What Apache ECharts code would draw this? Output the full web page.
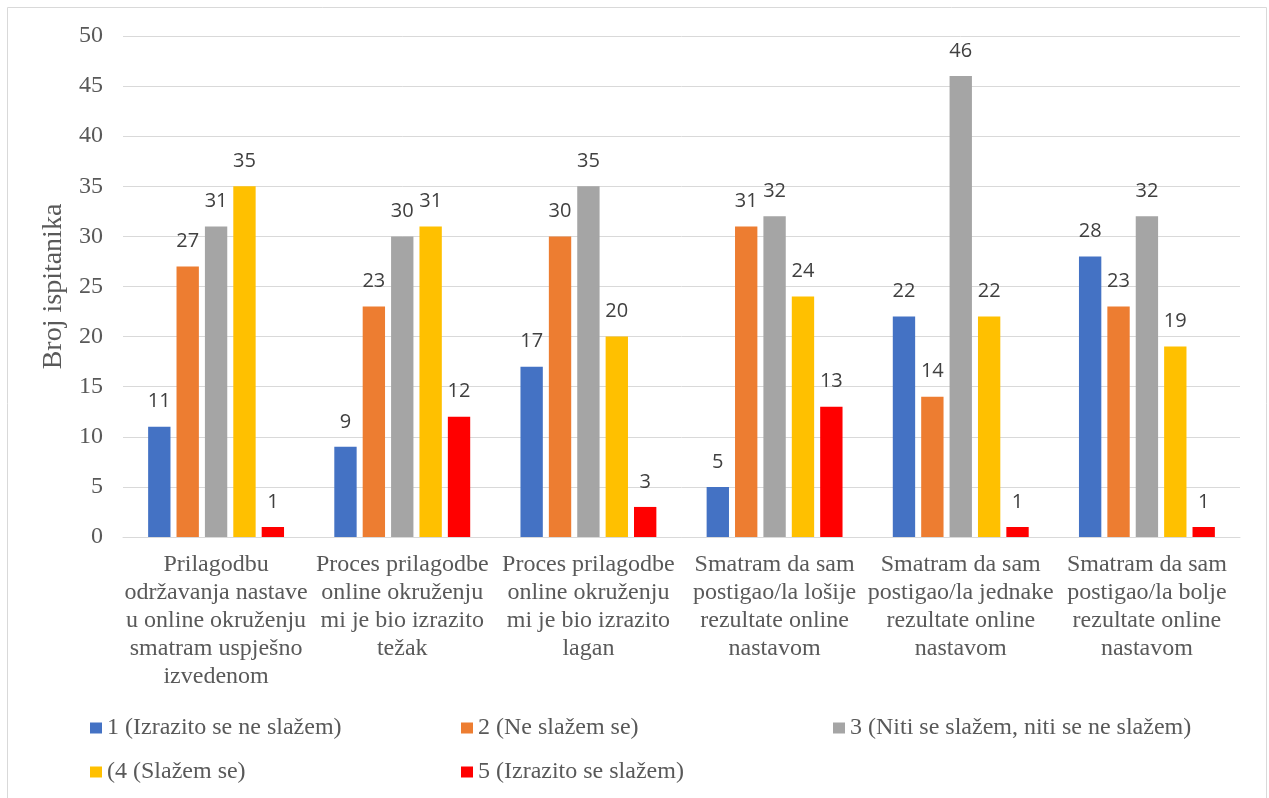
<!DOCTYPE html>
<html>
<head>
<meta charset="utf-8">
<script src="https://cdn.jsdelivr.net/npm/echarts@6/dist/echarts.min.js"></script>
<style>
html,body{margin:0;padding:0;background:#fff;}
#chart{width:1269px;height:798px;}
</style>
</head>
<body>
<div id="chart"></div>
<script>
const categories = [
  "Prilagodbu\nodržavanja nastave\nu online okruženju\nsmatram uspješno\nizvedenom",
  "Proces prilagodbe\nonline okruženju\nmi je bio izrazito\ntežak",
  "Proces prilagodbe\nonline okruženju\nmi je bio izrazito\nlagan",
  "Smatram da sam\npostigao/la lošije\nrezultate online\nnastavom",
  "Smatram da sam\npostigao/la jednake\nrezultate online\nnastavom",
  "Smatram da sam\npostigao/la bolje\nrezultate online\nnastavom"
];
const seriesNames = [
  "1 (Izrazito se ne slažem)",
  "2 (Ne slažem se)",
  "3 (Niti se slažem, niti se ne slažem)",
  "(4 (Slažem se)",
  "5 (Izrazito se slažem)"
];
const s1 = [11, 9, 17, 5, 22, 28];
const s2 = [27, 23, 30, 31, 14, 23];
const s3 = [31, 30, 35, 32, 46, 32];
const s4 = [35, 31, 20, 24, 22, 19];
const s5 = [1, 12, 3, 13, 1, 1];
const yTicks = [0, 5, 10, 15, 20, 25, 30, 35, 40, 45, 50];
const colors = ["#4472C4", "#ED7D31", "#A5A5A5", "#FFC000", "#FF0000"];
const values = [s1, s2, s3, s4, s5];

const serif = "'Liberation Serif', 'Times New Roman', serif";
const chart = echarts.init(document.getElementById('chart'), null, {renderer: 'canvas'});

const legendCommon = {
  orient: 'vertical',
  top: 716,
  padding: 0,
  itemWidth: 12,
  itemHeight: 11,
  itemGap: 20,
  icon: 'rect',
  textStyle: {fontFamily: serif, fontSize: 24, color: '#595959', lineHeight: 24}
};

chart.setOption({
  animation: false,
  color: colors,
  graphic: [{
    type: 'rect',
    shape: {x: 7.5, y: 7.5, width: 1259, height: 800},
    style: {fill: 'none', stroke: '#d9d9d9', lineWidth: 1},
    silent: true
  }],
  legend: [
    Object.assign({}, legendCommon, {left: 90, data: [seriesNames[0], seriesNames[3]]}),
    Object.assign({}, legendCommon, {left: 461, data: [seriesNames[1], seriesNames[4]]}),
    Object.assign({}, legendCommon, {left: 833, data: [seriesNames[2]]})
  ],
  grid: {left: 123, right: 29, top: 36, bottom: 261, containLabel: false},
  xAxis: {
    type: 'category',
    data: categories,
    axisLine: {lineStyle: {color: '#d9d9d9', width: 1}},
    axisTick: {show: false},
    axisLabel: {
      interval: 0,
      margin: 14,
      fontFamily: serif,
      fontSize: 24,
      lineHeight: 28,
      color: '#595959'
    }
  },
  yAxis: {
    type: 'value',
    min: yTicks[0],
    max: yTicks[yTicks.length - 1],
    interval: 5,
    name: 'Broj ispitanika',
    nameLocation: 'middle',
    nameGap: 52,
    nameRotate: 90,
    nameTextStyle: {fontFamily: serif, fontSize: 28, color: '#595959'},
    axisLine: {show: false},
    axisTick: {show: false},
    splitLine: {lineStyle: {color: '#d9d9d9', width: 1}},
    axisLabel: {margin: 20, fontFamily: serif, fontSize: 24, color: '#595959'}
  },
  series: seriesNames.map((name, i) => ({
    name: name,
    type: 'bar',
    data: values[i],
    barGap: '27%',
    barCategoryGap: '27%',
    itemStyle: {color: colors[i]},
    label: {
      show: true,
      position: 'top',
      distance: 15,
      fontFamily: "'Open Sans', 'Noto Sans', sans-serif",
      fontSize: 20,
      color: '#404040'
    }
  }))
});
</script>
</body>
</html>
